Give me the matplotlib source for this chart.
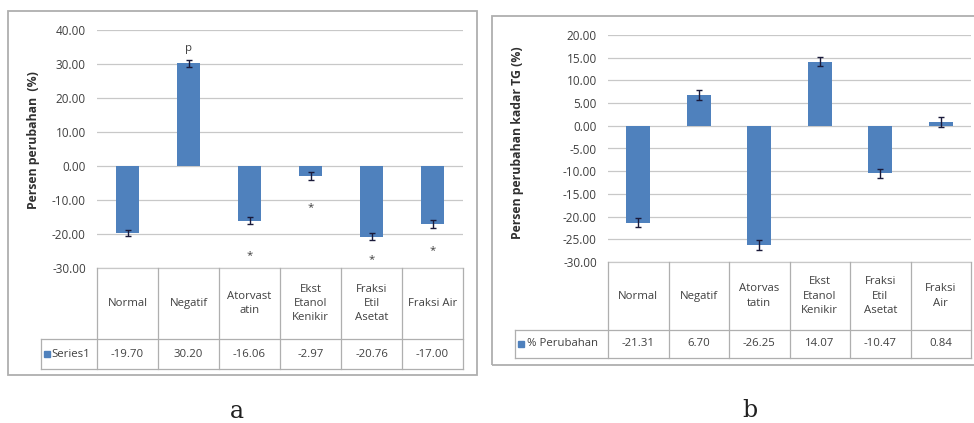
import matplotlib
matplotlib.use("Agg")
import matplotlib.pyplot as plt
from matplotlib.ticker import FuncFormatter, MultipleLocator
from matplotlib.patches import Rectangle
from matplotlib.lines import Line2D

# ---- data -------------------------------------------------------------
cats_a = ["Normal", "Negatif", "Atorvast\natin", "Ekst\nEtanol\nKenikir",
          "Fraksi\nEtil\nAsetat", "Fraksi Air"]
vals_a = [-19.70, 30.20, -16.06, -2.97, -20.76, -17.00]
err_a = [1.0, 1.0, 1.1, 1.1, 1.0, 1.1]
series_a = "Series1"
marks_a = ["", "p", "*", "*", "*", "*"]
mark_y_a = [0, 34.5, -26.5, -12.2, -27.6, -25.0]
ylabel_a = "Persen perubahan  (%)"

cats_b = ["Normal", "Negatif", "Atorvas\ntatin", "Ekst\nEtanol\nKenikir",
          "Fraksi\nEtil\nAsetat", "Fraksi\nAir"]
vals_b = [-21.31, 6.70, -26.25, 14.07, -10.47, 0.84]
err_b = [1.0, 1.1, 1.0, 1.0, 1.0, 1.1]
series_b = "% Perubahan"
ylabel_b = "Persen perubahan kadar TG (%)"

plt.rcParams["axes.unicode_minus"] = False
plt.rcParams["font.family"] = ["Open Sans", "DejaVu Sans"]

W, H = 974, 423
BLUE = "#4F81BD"
GRID = "#C8C8C8"
TXT = "#404040"
BORDER = "#AFAFAF"
FS = 8.2

fig = plt.figure(figsize=(W / 100, H / 100), dpi=100)


def fx(x):
    return x / W


def fy(y):
    return 1 - y / H


def hline(x0, x1, y, color=BORDER, lw=0.9):
    fig.add_artist(Line2D([fx(x0), fx(x1)], [fy(y), fy(y)], color=color, lw=lw,
                          transform=fig.transFigure))


def vline(x, y0, y1, color=BORDER, lw=0.9):
    fig.add_artist(Line2D([fx(x), fx(x)], [fy(y0), fy(y1)], color=color, lw=lw,
                          transform=fig.transFigure))


def panel(box, plot, cats, vals, errs, ylim, step, series, ylabel,
          ylabel_xy, cat_bottom, val_bottom, legend_left, marks=None, mark_y=None,
          legend_text_x=None):
    bx0, by0, bx1, by1 = box
    # outer chart border
    fig.add_artist(Rectangle((fx(bx0), fy(by1)), fx(bx1) - fx(bx0), fy(by0) - fy(by1),
                             fill=False, ec=BORDER, lw=1.3, transform=fig.transFigure))
    px0, py0, px1, py1 = plot
    ax = fig.add_axes([fx(px0), fy(py1), fx(px1) - fx(px0), fy(py0) - fy(py1)])
    n = len(cats)
    xs = [i + 0.5 for i in range(n)]
    ax.bar(xs, vals, width=0.39, color=BLUE, zorder=3)
    ax.errorbar(xs, vals, yerr=errs, fmt="none", ecolor="#1A1A3A", elinewidth=1.0,
                capsize=2.2, capthick=1.0, zorder=4)
    ax.set_xlim(0, n)
    ax.set_ylim(*ylim)
    ax.yaxis.set_major_locator(MultipleLocator(step))
    ax.yaxis.set_major_formatter(FuncFormatter(lambda v, p: f"{v:.2f}"))
    ax.grid(axis="y", color=GRID, lw=0.9, zorder=0)
    ax.set_xticks([])
    ax.tick_params(axis="y", length=0, pad=8, labelsize=FS + 0.3, labelcolor=TXT)
    for s in ax.spines.values():
        s.set_visible(False)
    if marks:
        for x, m, y in zip(xs, marks, mark_y):
            if m:
                ax.text(x, y, m, ha="center", va="center", fontsize=FS, color=TXT)
    fig.text(fx(ylabel_xy[0]), fy(ylabel_xy[1]), ylabel, rotation=90, ha="center",
             va="center", fontsize=8.8, fontweight="bold", color="#303030")

    # data table below the plot
    colw = (px1 - px0) / n
    hline(px0, px1, py1, color=GRID)
    hline(legend_left, px1, cat_bottom)
    hline(legend_left, px1, val_bottom)
    vline(legend_left, cat_bottom, val_bottom)
    for i in range(n + 1):
        vline(px0 + i * colw, py1, val_bottom)
    for i, (c, v) in enumerate(zip(cats, vals)):
        cx = px0 + (i + 0.5) * colw
        fig.text(fx(cx), fy((py1 + cat_bottom) / 2), c, ha="center", va="center",
                 fontsize=FS, color=TXT, linespacing=1.4)
        fig.text(fx(cx), fy((cat_bottom + val_bottom) / 2), f"{v:.2f}", ha="center",
                 va="center", fontsize=FS, color=TXT)
    ym = (cat_bottom + val_bottom) / 2
    fig.add_artist(Rectangle((fx(legend_left + 3), fy(ym + 3)), fx(6), 6 / H,
                             color=BLUE, transform=fig.transFigure))
    fig.text(fx(legend_text_x), fy(ym), series, ha="left", va="center",
             fontsize=FS, color=TXT)
    return ax


panel(box=(8, 11, 477, 375), plot=(97, 30, 463, 268), cats=cats_a, vals=vals_a,
      errs=err_a, ylim=(-30, 40), step=10, series=series_a, ylabel=ylabel_a,
      ylabel_xy=(34, 140), cat_bottom=339, val_bottom=369, legend_left=41,
      marks=marks_a, mark_y=mark_y_a, legend_text_x=51)

panel(box=(492, 16, 985, 365), plot=(608, 35, 971, 262), cats=cats_b, vals=vals_b,
      errs=err_b, ylim=(-30, 20), step=5, series=series_b, ylabel=ylabel_b,
      ylabel_xy=(518, 143), cat_bottom=330, val_bottom=358, legend_left=515,
      legend_text_x=527)

fig.text(fx(237), fy(411), "a", ha="center", va="center", fontsize=17,
         family="DejaVu Serif", color="#202020")
fig.text(fx(750), fy(410), "b", ha="center", va="center", fontsize=17,
         family="DejaVu Serif", color="#202020")

fig.savefig("out.png", dpi=100)
